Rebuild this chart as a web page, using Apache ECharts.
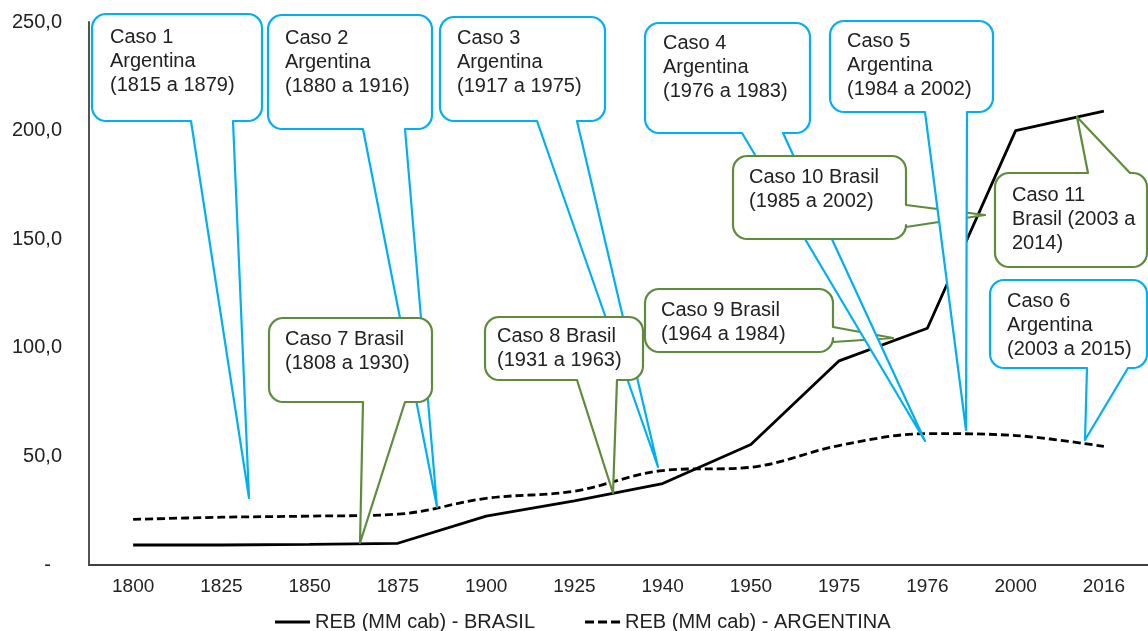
<!DOCTYPE html>
<html>
<head>
<meta charset="utf-8">
<script src="https://cdn.jsdelivr.net/npm/echarts@6/dist/echarts.min.js"></script>
<style>
html,body{margin:0;padding:0;background:#fff;}
#chart{width:1148px;height:631px;}
</style>
</head>
<body>
<div id="chart"></div>
<script>
const categories = ['1800','1825','1850','1875','1900','1925','1940','1950','1975','1976','2000','2016'];
const brasil = [9.2, 9.2, 9.5, 10, 22.5, 29.5, 37.5, 55.5, 94, 109, 200, 209];
const argentina = [21, 22, 22.5, 23.4, 30.7, 34, 43.5, 45, 55, 60.5, 59.6, 54.6];
const seriesNames = ['REB (MM cab) - BRASIL', 'REB (MM cab) - ARGENTINA'];

// Annotation callout texts
const calloutTexts = [
  'Caso 1\nArgentina\n(1815 a 1879)',
  'Caso 2\nArgentina\n(1880 a 1916)',
  'Caso 3\nArgentina\n(1917 a 1975)',
  'Caso 7 Brasil\n(1808 a 1930)',
  'Caso 8 Brasil\n(1931 a 1963)',
  'Caso 9 Brasil\n(1964 a 1984)',
  'Caso 4\nArgentina\n(1976 a 1983)',
  'Caso 10 Brasil\n(1985 a 2002)',
  'Caso 5\nArgentina\n(1984 a 2002)',
  'Caso 11\nBrasil (2003 a\n2014)',
  'Caso 6\nArgentina\n(2003 a 2015)'
];

// Layout of the callouts (pixels): box, tail edge, tail base, tip, text anchor
const BLUE = '#00b0f0', GREEN = '#5f8b3c';
const calloutLayout = [
  {c: BLUE,  box: [92, 14, 262, 121],   edge: 'bottom', base: [191, 233], tip: [249, 498], tx: 110, ty: 25},
  {c: BLUE,  box: [268, 15, 432, 129],  edge: 'bottom', base: [363, 405], tip: [437, 507], tx: 285, ty: 26},
  {c: BLUE,  box: [440, 17, 605, 121],  edge: 'bottom', base: [537, 577], tip: [658, 467], tx: 457, ty: 26},
  {c: GREEN, box: [269, 318, 432, 402], edge: 'bottom', base: [363, 405], tip: [360, 543], tx: 285, ty: 327},
  {c: GREEN, box: [485, 317, 643, 380], edge: 'bottom', base: [577, 617], tip: [613, 493], tx: 497, ty: 324},
  {c: GREEN, box: [645, 289, 833, 352], edge: 'right',  base: [327, 342], tip: [893, 338], tx: 661, ty: 298},
  {c: BLUE,  box: [645, 23, 810, 133],  edge: 'bottom', base: [742, 783], tip: [925, 441], tx: 663, ty: 31},
  {c: GREEN, box: [733, 156, 906, 239], edge: 'right',  base: [205, 227], tip: [985, 215], tx: 749, ty: 165},
  {c: BLUE,  box: [830, 21, 993, 112],  edge: 'bottom', base: [925, 967], tip: [966, 430], tx: 847, ty: 29},
  {c: GREEN, box: [995, 173, 1147, 267], edge: 'top',   base: [1088, 1130], tip: [1077, 117], tx: 1012, ty: 183},
  {c: BLUE,  box: [990, 280, 1147, 368], edge: 'bottom', base: [1087, 1128], tip: [1085, 440], tx: 1007, ty: 289}
];

const FONT = '"Liberation Sans", Arial, sans-serif';

function arc(pts, cx, cy, r, a0, a1) {
  const n = 8;
  for (let i = 0; i <= n; i++) {
    const a = (a0 + (a1 - a0) * i / n) * Math.PI / 180;
    pts.push([cx + r * Math.cos(a), cy + r * Math.sin(a)]);
  }
}
function calloutPoints(L) {
  const [x1, y1, x2, y2] = L.box, r = 14, pts = [];
  pts.push([x1 + r, y1]);
  if (L.edge === 'top') { pts.push([L.base[0], y1], L.tip, [L.base[1], y1]); }
  pts.push([x2 - r, y1]);
  arc(pts, x2 - r, y1 + r, r, -90, 0);
  if (L.edge === 'right') { pts.push([x2, L.base[0]], L.tip, [x2, L.base[1]]); }
  arc(pts, x2 - r, y2 - r, r, 0, 90);
  if (L.edge === 'bottom') { pts.push([L.base[1], y2], L.tip, [L.base[0], y2]); }
  arc(pts, x1 + r, y2 - r, r, 90, 180);
  arc(pts, x1 + r, y1 + r, r, 180, 270);
  return pts;
}

const graphics = [];
calloutLayout.forEach((L, i) => {
  graphics.push({
    type: 'polygon', z: 10, z2: i * 2,
    shape: {points: calloutPoints(L)},
    style: {fill: '#fff', stroke: L.c, lineWidth: 2.2, lineJoin: 'round'}
  });
  graphics.push({
    type: 'text', z: 10, z2: i * 2 + 1, x: L.tx, y: L.ty,
    style: {text: calloutTexts[i], font: '20px ' + FONT, fill: '#222', lineHeight: 24, verticalAlign: 'top'}
  });
});

const chart = echarts.init(document.getElementById('chart'));
chart.setOption({
  animation: false,
  backgroundColor: '#fff',
  textStyle: {fontFamily: FONT},
  grid: {left: 89, top: 22, width: 1063, bottom: 66, containLabel: false},
  legend: {
    left: 270, top: 607, itemWidth: 35, itemHeight: 3, itemGap: 50,
    textStyle: {fontSize: 20, color: '#222', fontFamily: FONT},
    data: [
      {name: seriesNames[0], icon: 'path://M0,0H35V3H0Z'},
      {name: seriesNames[1], icon: 'path://M0,0H9V3H0Z M13,0H22V3H13Z M26,0H35V3H26Z'}
    ]
  },
  xAxis: {
    type: 'category', data: categories, boundaryGap: true,
    axisLine: {lineStyle: {color: '#404040', width: 1.8}},
    axisTick: {show: false},
    axisLabel: {fontSize: 19, color: '#222', margin: 12, fontFamily: FONT}
  },
  yAxis: {
    type: 'value', min: 0, max: 250, interval: 50,
    splitLine: {show: false},
    axisLine: {show: true, lineStyle: {color: '#404040', width: 1.8}},
    axisTick: {show: false},
    axisLabel: {
      fontSize: 20, color: '#222', margin: 27, fontFamily: FONT,
      formatter: v => v === 0 ? '-  ' : v.toFixed(1).replace('.', ',')
    }
  },
  series: [
    {name: seriesNames[0], type: 'line', data: brasil, symbol: 'none', z: 3,
     lineStyle: {color: '#000', width: 2.8}, itemStyle: {color: '#000'}},
    {name: seriesNames[1], type: 'line', data: argentina, symbol: 'none', smooth: 0.35, z: 3,
     lineStyle: {color: '#000', width: 2.8, type: [8, 4]}, itemStyle: {color: '#000'}}
  ],
  graphic: graphics
});
</script>
</body>
</html>
